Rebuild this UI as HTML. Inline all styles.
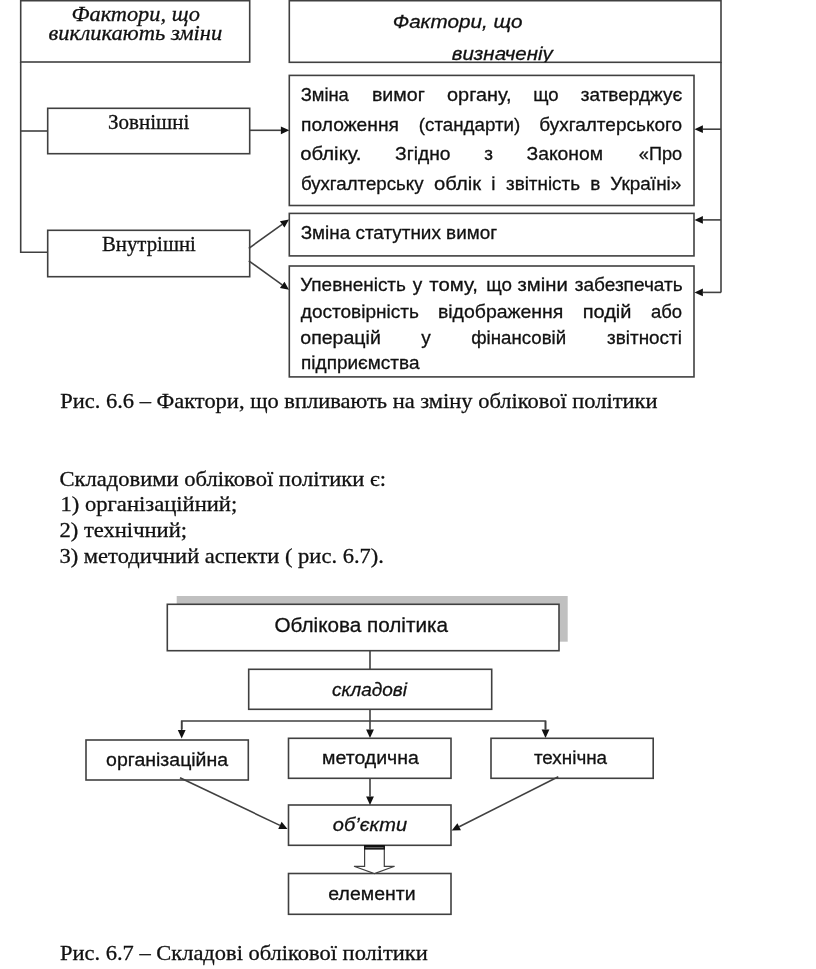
<!DOCTYPE html>
<html lang="uk"><head><meta charset="utf-8"><title>Облікова політика</title>
<style>
html,body{margin:0;padding:0;background:#fff;}
body{width:816px;height:969px;overflow:hidden;}
svg{display:block;will-change:transform;}
</style></head><body>
<svg width="816" height="969" viewBox="0 0 816 969">
<rect x="0" y="0" width="816" height="969" fill="#ffffff"/>
<rect x="20.70" y="0.70" width="229.00" height="61.30" fill="#fff" stroke="#404040" stroke-width="1.6"/>
<rect x="289.30" y="0.70" width="431.70" height="61.60" fill="#fff" stroke="#404040" stroke-width="1.6"/>
<polyline points="20.70,62.00 20.70,252.30 47.70,252.30" fill="none" stroke="#404040" stroke-width="1.6"/>
<polyline points="20.70,131.00 47.70,131.00" fill="none" stroke="#404040" stroke-width="1.6"/>
<rect x="47.70" y="108.30" width="202.00" height="45.40" fill="#fff" stroke="#404040" stroke-width="1.6"/>
<rect x="47.70" y="230.30" width="202.00" height="46.40" fill="#fff" stroke="#404040" stroke-width="1.6"/>
<rect x="289.30" y="75.40" width="404.70" height="130.10" fill="#fff" stroke="#404040" stroke-width="1.6"/>
<rect x="289.30" y="213.40" width="404.70" height="42.50" fill="#fff" stroke="#404040" stroke-width="1.6"/>
<rect x="289.30" y="266.00" width="404.70" height="110.90" fill="#fff" stroke="#404040" stroke-width="1.6"/>
<polyline points="721.00,62.00 721.00,292.40" fill="none" stroke="#404040" stroke-width="1.6"/>
<polyline points="249.70,130.30 280.90,130.30" fill="none" stroke="#404040" stroke-width="1.6"/>
<polygon points="289.30,130.30 280.90,134.20 280.90,126.40" fill="#111"/>
<polyline points="721.00,129.20 702.90,129.20" fill="none" stroke="#404040" stroke-width="1.6"/>
<polygon points="694.50,129.20 702.90,125.30 702.90,133.10" fill="#111"/>
<polyline points="721.00,219.90 702.90,219.90" fill="none" stroke="#404040" stroke-width="1.6"/>
<polygon points="694.50,219.90 702.90,216.00 702.90,223.80" fill="#111"/>
<polyline points="721.00,292.40 702.90,292.40" fill="none" stroke="#404040" stroke-width="1.6"/>
<polygon points="694.50,292.40 702.90,288.50 702.90,296.30" fill="#111"/>
<polyline points="248.80,248.30 282.17,224.39" fill="none" stroke="#404040" stroke-width="1.6"/>
<polygon points="289.00,219.50 284.44,227.56 279.90,221.22" fill="#111"/>
<polyline points="248.80,260.80 282.19,284.89" fill="none" stroke="#404040" stroke-width="1.6"/>
<polygon points="289.00,289.80 279.91,288.05 284.47,281.72" fill="#111"/>
<text x="71.48" y="20.75" font-family='"Liberation Serif", serif' font-size="21.4" font-style="italic" textLength="128.52" lengthAdjust="spacingAndGlyphs" fill="#111" stroke="#111" stroke-width="0.3">Фактори, що</text>
<text x="48.48" y="39.50" font-family='"Liberation Serif", serif' font-size="21.4" font-style="italic" textLength="173.78" lengthAdjust="spacingAndGlyphs" fill="#111" stroke="#111" stroke-width="0.3">викликають зміни</text>
<text x="107.98" y="128.90" font-family='"Liberation Serif", serif' font-size="21.4" textLength="81.43" lengthAdjust="spacingAndGlyphs" fill="#111" stroke="#111" stroke-width="0.3">Зовнішні</text>
<text x="101.99" y="251.30" font-family='"Liberation Serif", serif' font-size="21.4" textLength="93.82" lengthAdjust="spacingAndGlyphs" fill="#111" stroke="#111" stroke-width="0.3">Внутрішні</text>
<text x="392.74" y="27.50" font-family='"Liberation Sans", sans-serif' font-size="19.2" font-style="italic" textLength="129.77" lengthAdjust="spacingAndGlyphs" fill="#111" stroke="#111" stroke-width="0.3">Фактори, що</text>
<clipPath id="cb"><rect x="289" y="1" width="432" height="61.2"/></clipPath><g clip-path="url(#cb)">
<text x="451.73" y="60.00" font-family='"Liberation Sans", sans-serif' font-size="19.2" font-style="italic" textLength="101.04" lengthAdjust="spacingAndGlyphs" fill="#111" stroke="#111" stroke-width="0.3">визначеніу</text>
</g>
<text x="300.67" y="100.90" font-family='"Liberation Sans", sans-serif' font-size="19.0" textLength="48.17" lengthAdjust="spacingAndGlyphs" fill="#111" stroke="#111" stroke-width="0.3">Зміна</text>
<text x="371.94" y="100.90" font-family='"Liberation Sans", sans-serif' font-size="19.0" textLength="52.97" lengthAdjust="spacingAndGlyphs" fill="#111" stroke="#111" stroke-width="0.3">вимог</text>
<text x="447.04" y="100.90" font-family='"Liberation Sans", sans-serif' font-size="19.0" textLength="64.43" lengthAdjust="spacingAndGlyphs" fill="#111" stroke="#111" stroke-width="0.3">органу,</text>
<text x="533.16" y="100.90" font-family='"Liberation Sans", sans-serif' font-size="19.0" textLength="25.36" lengthAdjust="spacingAndGlyphs" fill="#111" stroke="#111" stroke-width="0.3">що</text>
<text x="580.80" y="100.90" font-family='"Liberation Sans", sans-serif' font-size="19.0" textLength="101.41" lengthAdjust="spacingAndGlyphs" fill="#111" stroke="#111" stroke-width="0.3">затверджує</text>
<text x="301.06" y="130.60" font-family='"Liberation Sans", sans-serif' font-size="19.0" textLength="97.93" lengthAdjust="spacingAndGlyphs" fill="#111" stroke="#111" stroke-width="0.3">положення</text>
<text x="418.85" y="130.60" font-family='"Liberation Sans", sans-serif' font-size="19.0" textLength="101.33" lengthAdjust="spacingAndGlyphs" fill="#111" stroke="#111" stroke-width="0.3">(стандарти)</text>
<text x="539.23" y="130.60" font-family='"Liberation Sans", sans-serif' font-size="19.0" textLength="142.87" lengthAdjust="spacingAndGlyphs" fill="#111" stroke="#111" stroke-width="0.3">бухгалтерського</text>
<text x="300.24" y="160.10" font-family='"Liberation Sans", sans-serif' font-size="19.0" textLength="61.29" lengthAdjust="spacingAndGlyphs" fill="#111" stroke="#111" stroke-width="0.3">обліку.</text>
<text x="395.12" y="160.10" font-family='"Liberation Sans", sans-serif' font-size="19.0" textLength="55.47" lengthAdjust="spacingAndGlyphs" fill="#111" stroke="#111" stroke-width="0.3">Згідно</text>
<text x="484.37" y="160.10" font-family='"Liberation Sans", sans-serif' font-size="19.0" fill="#111" stroke="#111" stroke-width="0.3">з</text>
<text x="526.47" y="160.10" font-family='"Liberation Sans", sans-serif' font-size="19.0" textLength="76.65" lengthAdjust="spacingAndGlyphs" fill="#111" stroke="#111" stroke-width="0.3">Законом</text>
<text x="638.82" y="160.10" font-family='"Liberation Sans", sans-serif' font-size="19.0" textLength="43.29" lengthAdjust="spacingAndGlyphs" fill="#111" stroke="#111" stroke-width="0.3">«Про</text>
<text x="300.89" y="189.70" font-family='"Liberation Sans", sans-serif' font-size="19.0" textLength="122.68" lengthAdjust="spacingAndGlyphs" fill="#111" stroke="#111" stroke-width="0.3">бухгалтерську</text>
<text x="434.01" y="189.70" font-family='"Liberation Sans", sans-serif' font-size="19.0" textLength="47.09" lengthAdjust="spacingAndGlyphs" fill="#111" stroke="#111" stroke-width="0.3">облік</text>
<text x="491.26" y="189.70" font-family='"Liberation Sans", sans-serif' font-size="19.0" fill="#111" stroke="#111" stroke-width="0.3">і</text>
<text x="506.01" y="189.70" font-family='"Liberation Sans", sans-serif' font-size="19.0" textLength="74.02" lengthAdjust="spacingAndGlyphs" fill="#111" stroke="#111" stroke-width="0.3">звітність</text>
<text x="590.34" y="189.70" font-family='"Liberation Sans", sans-serif' font-size="19.0" fill="#111" stroke="#111" stroke-width="0.3">в</text>
<text x="610.34" y="189.70" font-family='"Liberation Sans", sans-serif' font-size="19.0" textLength="71.02" lengthAdjust="spacingAndGlyphs" fill="#111" stroke="#111" stroke-width="0.3">Україні»</text>
<text x="300.69" y="239.20" font-family='"Liberation Sans", sans-serif' font-size="19.0" textLength="196.43" lengthAdjust="spacingAndGlyphs" fill="#111" stroke="#111" stroke-width="0.3">Зміна статутних вимог</text>
<text x="300.18" y="291.20" font-family='"Liberation Sans", sans-serif' font-size="19.0" textLength="105.74" lengthAdjust="spacingAndGlyphs" fill="#111" stroke="#111" stroke-width="0.3">Упевненість</text>
<text x="412.80" y="291.20" font-family='"Liberation Sans", sans-serif' font-size="19.0" fill="#111" stroke="#111" stroke-width="0.3">у</text>
<text x="429.39" y="291.20" font-family='"Liberation Sans", sans-serif' font-size="19.0" textLength="48.48" lengthAdjust="spacingAndGlyphs" fill="#111" stroke="#111" stroke-width="0.3">тому,</text>
<text x="486.27" y="291.20" font-family='"Liberation Sans", sans-serif' font-size="19.0" textLength="25.71" lengthAdjust="spacingAndGlyphs" fill="#111" stroke="#111" stroke-width="0.3">що</text>
<text x="517.48" y="291.20" font-family='"Liberation Sans", sans-serif' font-size="19.0" textLength="50.37" lengthAdjust="spacingAndGlyphs" fill="#111" stroke="#111" stroke-width="0.3">зміни</text>
<text x="574.66" y="291.20" font-family='"Liberation Sans", sans-serif' font-size="19.0" textLength="108.03" lengthAdjust="spacingAndGlyphs" fill="#111" stroke="#111" stroke-width="0.3">забезпечать</text>
<text x="300.79" y="317.70" font-family='"Liberation Sans", sans-serif' font-size="19.0" textLength="118.12" lengthAdjust="spacingAndGlyphs" fill="#111" stroke="#111" stroke-width="0.3">достовірність</text>
<text x="437.93" y="317.70" font-family='"Liberation Sans", sans-serif' font-size="19.0" textLength="125.45" lengthAdjust="spacingAndGlyphs" fill="#111" stroke="#111" stroke-width="0.3">відображення</text>
<text x="582.71" y="317.70" font-family='"Liberation Sans", sans-serif' font-size="19.0" textLength="48.74" lengthAdjust="spacingAndGlyphs" fill="#111" stroke="#111" stroke-width="0.3">подій</text>
<text x="651.01" y="317.70" font-family='"Liberation Sans", sans-serif' font-size="19.0" textLength="31.11" lengthAdjust="spacingAndGlyphs" fill="#111" stroke="#111" stroke-width="0.3">або</text>
<text x="300.27" y="343.50" font-family='"Liberation Sans", sans-serif' font-size="19.0" textLength="80.59" lengthAdjust="spacingAndGlyphs" fill="#111" stroke="#111" stroke-width="0.3">операцій</text>
<text x="421.23" y="343.50" font-family='"Liberation Sans", sans-serif' font-size="19.0" fill="#111" stroke="#111" stroke-width="0.3">у</text>
<text x="471.22" y="343.50" font-family='"Liberation Sans", sans-serif' font-size="19.0" textLength="94.91" lengthAdjust="spacingAndGlyphs" fill="#111" stroke="#111" stroke-width="0.3">фінансовій</text>
<text x="607.08" y="343.50" font-family='"Liberation Sans", sans-serif' font-size="19.0" textLength="74.85" lengthAdjust="spacingAndGlyphs" fill="#111" stroke="#111" stroke-width="0.3">звітності</text>
<text x="301.08" y="368.60" font-family='"Liberation Sans", sans-serif' font-size="19.0" textLength="118.38" lengthAdjust="spacingAndGlyphs" fill="#111" stroke="#111" stroke-width="0.3">підприємства</text>
<text x="60.20" y="408.30" font-family='"Liberation Serif", serif' font-size="21.4" textLength="597.40" lengthAdjust="spacingAndGlyphs" fill="#111" stroke="#111" stroke-width="0.3">Рис. 6.6 – Фактори, що впливають на зміну облікової політики</text>
<text x="59.49" y="485.60" font-family='"Liberation Serif", serif' font-size="21.4" textLength="326.53" lengthAdjust="spacingAndGlyphs" fill="#111" stroke="#111" stroke-width="0.3">Складовими облікової політики є:</text>
<text x="60.56" y="511.40" font-family='"Liberation Serif", serif' font-size="21.4" textLength="176.68" lengthAdjust="spacingAndGlyphs" fill="#111" stroke="#111" stroke-width="0.3">1) організаційний;</text>
<text x="59.48" y="536.75" font-family='"Liberation Serif", serif' font-size="21.4" textLength="127.54" lengthAdjust="spacingAndGlyphs" fill="#111" stroke="#111" stroke-width="0.3">2) технічний;</text>
<text x="59.49" y="562.70" font-family='"Liberation Serif", serif' font-size="21.4" textLength="324.42" lengthAdjust="spacingAndGlyphs" fill="#111" stroke="#111" stroke-width="0.3">3) методичний аспекти ( рис. 6.7).</text>
<text x="60.00" y="960.20" font-family='"Liberation Serif", serif' font-size="21.4" textLength="367.81" lengthAdjust="spacingAndGlyphs" fill="#111" stroke="#111" stroke-width="0.3">Рис. 6.7 – Складові облікової політики</text>
<rect x="176.7" y="596" width="391" height="45.7" fill="#c0c0c0"/>
<rect x="167.30" y="604.30" width="391.70" height="46.40" fill="#fff" stroke="#404040" stroke-width="1.6"/>
<polyline points="370.00,650.70 370.00,669.30" fill="none" stroke="#404040" stroke-width="1.6"/>
<rect x="248.70" y="669.30" width="243.00" height="40.00" fill="#fff" stroke="#404040" stroke-width="1.6"/>
<polyline points="181.70,729.00 181.70,721.00 545.50,721.00 545.50,729.00" fill="none" stroke="#404040" stroke-width="1.6"/>
<polyline points="181.70,721.00 181.70,730.10" fill="none" stroke="#404040" stroke-width="1.6"/>
<polygon points="181.70,738.50 177.80,730.10 185.60,730.10" fill="#111"/>
<polyline points="545.50,721.00 545.50,729.60" fill="none" stroke="#404040" stroke-width="1.6"/>
<polygon points="545.50,738.00 541.60,729.60 549.40,729.60" fill="#111"/>
<polyline points="370.00,709.30 370.00,729.60" fill="none" stroke="#404040" stroke-width="1.6"/>
<polygon points="370.00,738.00 366.10,729.60 373.90,729.60" fill="#111"/>
<rect x="86.00" y="740.00" width="162.30" height="40.00" fill="#fff" stroke="#404040" stroke-width="1.6"/>
<rect x="288.50" y="738.30" width="162.50" height="40.00" fill="#fff" stroke="#404040" stroke-width="1.6"/>
<rect x="491.00" y="738.30" width="162.20" height="40.00" fill="#fff" stroke="#404040" stroke-width="1.6"/>
<rect x="288.50" y="805.00" width="162.50" height="40.30" fill="#fff" stroke="#404040" stroke-width="1.6"/>
<rect x="288.50" y="873.50" width="162.50" height="40.80" fill="#fff" stroke="#404040" stroke-width="1.6"/>
<polyline points="370.00,778.30 370.00,796.60" fill="none" stroke="#404040" stroke-width="1.6"/>
<polygon points="370.00,805.00 366.10,796.60 373.90,796.60" fill="#111"/>
<polyline points="180.00,777.70 279.92,825.38" fill="none" stroke="#404040" stroke-width="1.6"/>
<polygon points="287.50,829.00 278.24,828.90 281.60,821.86" fill="#111"/>
<polyline points="558.30,776.70 459.20,826.72" fill="none" stroke="#404040" stroke-width="1.6"/>
<polygon points="451.70,830.50 457.44,823.23 460.96,830.20" fill="#111"/>
<polygon points="364.6,846 384.3,846 384.3,866.3 394.6,866.3 374.4,873.6 354,866.3 364.6,866.3" fill="#fff" stroke="#404040" stroke-width="1.2"/>
<rect x="364" y="845" width="20.9" height="4.6" fill="#111"/>
<rect x="365.5" y="847.3" width="18" height="0.8" fill="#888"/>
<text x="274.49" y="632.20" font-family='"Liberation Sans", sans-serif' font-size="20.5" textLength="173.51" lengthAdjust="spacingAndGlyphs" fill="#111" stroke="#111" stroke-width="0.3">Облікова політика</text>
<text x="332.00" y="695.50" font-family='"Liberation Sans", sans-serif' font-size="19.2" font-style="italic" textLength="75.01" lengthAdjust="spacingAndGlyphs" fill="#111" stroke="#111" stroke-width="0.3">складові</text>
<text x="106.08" y="765.70" font-family='"Liberation Sans", sans-serif' font-size="19.2" textLength="122.02" lengthAdjust="spacingAndGlyphs" fill="#111" stroke="#111" stroke-width="0.3">організаційна</text>
<text x="322.09" y="764.00" font-family='"Liberation Sans", sans-serif' font-size="19.2" textLength="96.82" lengthAdjust="spacingAndGlyphs" fill="#111" stroke="#111" stroke-width="0.3">методична</text>
<text x="533.89" y="764.00" font-family='"Liberation Sans", sans-serif' font-size="19.2" textLength="73.22" lengthAdjust="spacingAndGlyphs" fill="#111" stroke="#111" stroke-width="0.3">технічна</text>
<text x="332.88" y="831.00" font-family='"Liberation Sans", sans-serif' font-size="19.2" font-style="italic" textLength="74.22" lengthAdjust="spacingAndGlyphs" fill="#111" stroke="#111" stroke-width="0.3">об’єкти</text>
<text x="328.38" y="899.50" font-family='"Liberation Sans", sans-serif' font-size="19.2" textLength="87.15" lengthAdjust="spacingAndGlyphs" fill="#111" stroke="#111" stroke-width="0.3">елементи</text>
</svg>
</body></html>
